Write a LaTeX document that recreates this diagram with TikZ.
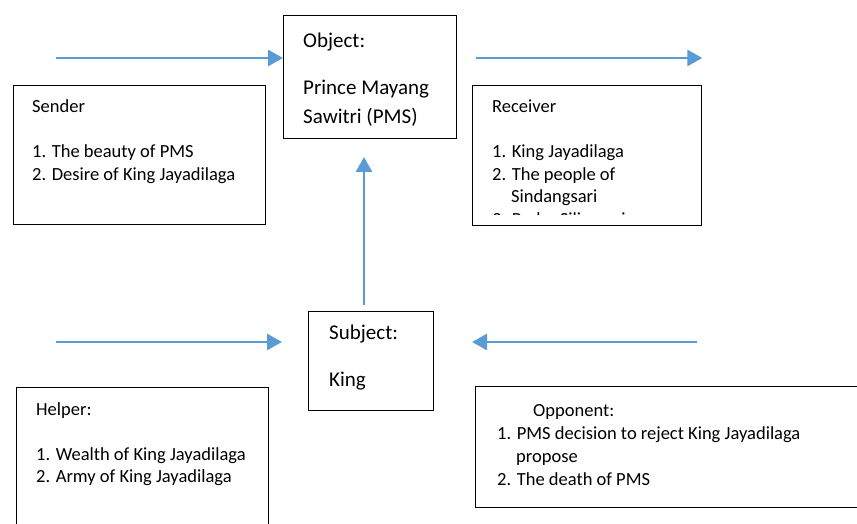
\documentclass[tikz,border=0pt]{standalone}
\usepackage{fontspec}
\setmainfont{Carlito}
\usetikzlibrary{arrows.meta,positioning}
\definecolor{actBlue}{RGB}{91,155,213}
\newcommand{\actlines}[1]{\begin{tabular}[t]{@{}l@{}}#1\end{tabular}}

\begin{document}
\begin{tikzpicture}[x=1pt,y=-1pt,
    actbox/.style={draw, line width=1.3pt, anchor=north west, inner sep=0pt},
    acttext/.style={anchor=base west, inner sep=0pt,
      font=\fontsize{18.5}{22.5}\selectfont},
    opptext/.style={anchor=base west, inner sep=0pt,
      font=\fontsize{18.5}{23}\selectfont},
    bigtext/.style={anchor=base west, inner sep=0pt,
      font=\fontsize{21}{29}\selectfont},
    flow/.style={-{Triangle[length=15pt,width=16pt]}, actBlue, line width=2.7pt}
  ]
  \useasboundingbox (0,0) rectangle (857,524);
  \clip (0,0) rectangle (857,524);

  % actant boxes
  \node[actbox, minimum width=173pt, minimum height=123pt] (object) at (283,15) {};
  \node[actbox, minimum width=252pt, minimum height=139pt] (sender) at (13,85) {};
  \node[actbox, minimum width=229pt, minimum height=140pt] (receiver) at (472,85) {};
  \node[actbox, minimum width=125pt, minimum height=99pt] (subject) at (308,311) {};
  \node[actbox, minimum width=252pt, minimum height=150pt] (helper) at (16,387) {};
  \node[actbox, minimum width=400pt, minimum height=121pt] (opponent) at (475,386) {};

  % texts
  \node[bigtext] (objtxt) at (303,48)
    {\actlines{Object:\\[18pt]Prince Mayang\\Sawitri (PMS)}};
  \node[acttext] (sendtxt) at (32,113)
    {\actlines{Sender\\[22.5pt]1. The beauty of PMS\\2. Desire of King Jayadilaga}};
  \begin{scope}
    \clip (472,85) rectangle (701,214);
    \node[acttext] (recvtxt) at (492,113)
      {\actlines{Receiver\\[22.5pt]1. King Jayadilaga\\2. The people of\\
       \hspace*{19pt}Sindangsari\\3. Prabu Siliwangi}};
  \end{scope}
  \begin{scope}
    \clip (308,311) rectangle (433,399);
    \node[bigtext] (subjtxt) at (329,339)
      {\actlines{Subject:\\[18pt]King\\Jayadilaga}};
  \end{scope}
  \node[acttext] (helptxt) at (36,415)
    {\actlines{Helper:\\[22.5pt]1. Wealth of King Jayadilaga\\2. Army of King Jayadilaga}};
  \node[opptext] (opptxt) at (497,416)
    {\actlines{\hspace*{36pt}Opponent:\\1. PMS decision to reject King Jayadilaga\\
     \hspace*{19pt}propose\\2. The death of PMS}};

  % arrows
  \coordinate (tlA) at (56,58);
  \coordinate (trA) at (476,58);
  \coordinate (upA) at (364,305);
  \coordinate (upB) at (364,157);
  \coordinate (blA) at (56,342);
  \coordinate (blB) at (282,342);
  \coordinate (brA) at (697,342);
  \coordinate (brB) at (472,342);
  \draw[flow] (tlA) -- (tlA -| object.west);
  \draw[flow] (trA) -- (trA -| receiver.east);
  \draw[flow] (upA) -- (upB);
  \draw[flow] (blA) -- (blB);
  \draw[flow] (brA) -- (brB);
\end{tikzpicture}
\end{document}
